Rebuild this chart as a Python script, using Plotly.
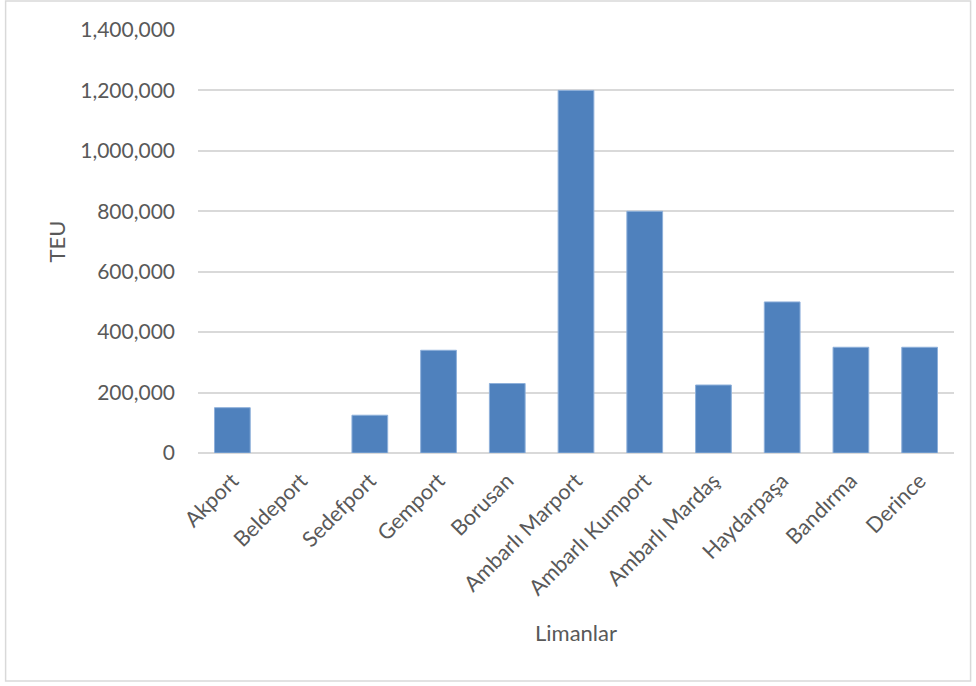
import plotly.graph_objects as go

ports = ["Akport", "Beldeport", "Sedefport", "Gemport", "Borusan", "Ambarlı Marport",
         "Ambarlı Kumport", "Ambarlı Mardaş", "Haydarpaşa", "Bandırma", "Derince"]
teu = [150000, 0, 125000, 340000, 230000, 1200000, 800000, 225000, 500000, 350000, 350000]
y_ticks = [0, 200000, 400000, 600000, 800000, 1000000, 1200000, 1400000]

W, H = 976, 686
L, R, T, B = 197.6, 954.4, 30, 453

fig = go.Figure(go.Bar(
    x=ports, y=teu,
    marker=dict(color="#4F81BD",
                line=dict(color="#8EB0DA", width=[1 if v > 0 else 0 for v in teu])),
))

font = "Lato, 'Open Sans', sans-serif"
fig.update_layout(
    width=W, height=H,
    margin=dict(l=L, r=W - R, t=T, b=H - B, autoexpand=False),
    paper_bgcolor="white", plot_bgcolor="white",
    bargap=0.48,
    showlegend=False,
    font=dict(family=font, color="#595959", size=21),
    xaxis=dict(tickangle=-45, showgrid=False, showline=False, ticks="",
               ticklabelstandoff=10,
               tickfont=dict(size=21.5, color="#595959"),
               title=dict(text="Limanlar", font=dict(size=22, color="#595959"), standoff=26)),
    yaxis=dict(range=[0, 1400000], tickvals=y_ticks, tickformat=",",
               showgrid=True, gridcolor="#D9D9D9", gridwidth=1.5,
               zeroline=True, zerolinecolor="#D9D9D9", zerolinewidth=1.5,
               ticks="", ticklabelstandoff=22,
               tickfont=dict(size=21, color="#595959"),
               title=dict(text="TEU", font=dict(size=22, color="#595959"), standoff=8)),
)

# outer chart border
pw, ph = R - L, B - T
fig.add_shape(type="rect", xref="paper", yref="paper",
              x0=(5 - L) / pw, x1=(971 - L) / pw,
              y0=(B - 681) / ph, y1=(B - 1) / ph,
              line=dict(color="#D9D9D9", width=1.5), fillcolor="rgba(0,0,0,0)", layer="below")

fig.write_html("out.html")
